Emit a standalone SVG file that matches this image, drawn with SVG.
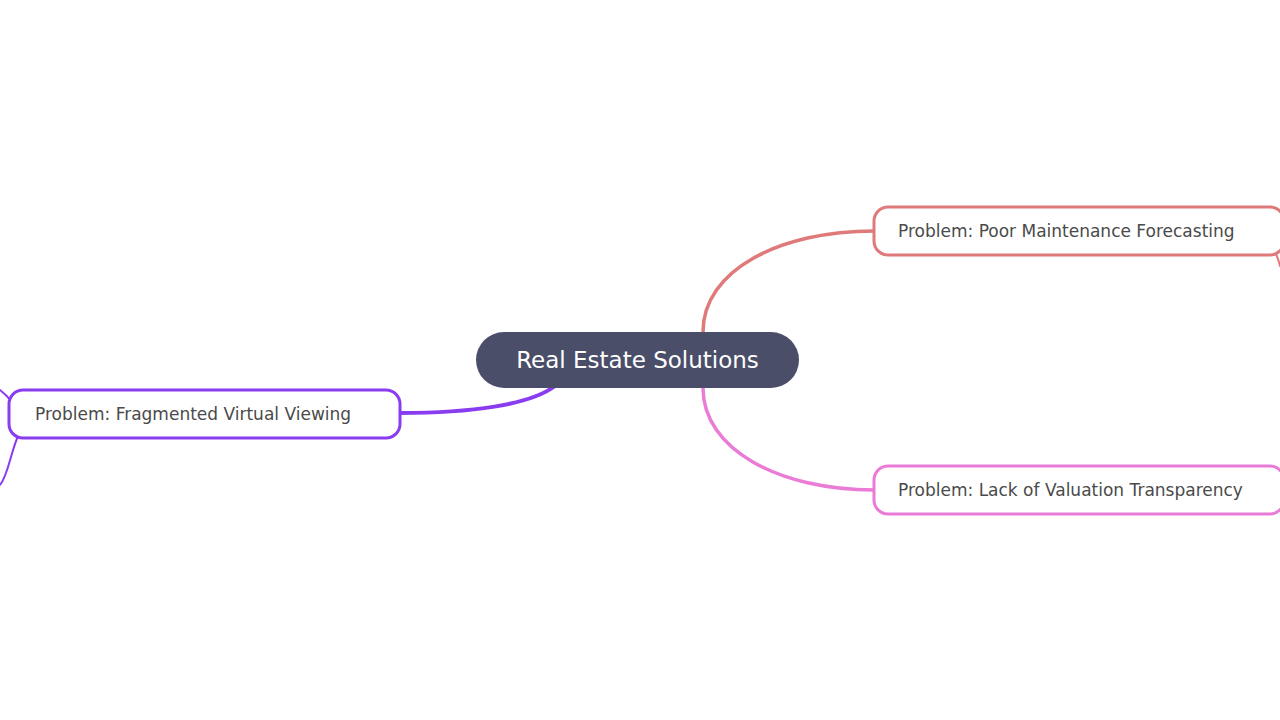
<svg xmlns="http://www.w3.org/2000/svg" width="1280" height="720" viewBox="0 0 1280 720">
<style>
.t{font-family:"DejaVu Sans",sans-serif;font-size:17px;fill:#4a4a4a}
.n{fill:#fff;stroke-width:3}
.c{fill:none;stroke-linecap:round}
</style>
<rect width="1280" height="720" fill="#fff"/>
<g id="connectors">
<path class="c" d="M703,332 C703,270 780,231 874,231" stroke="#e07a7a" stroke-width="3.5"/>
<path class="c" d="M703,388 C703,450 780,490 874,490" stroke="#ea7bd6" stroke-width="3.5"/>
<path class="c" d="M555,386 C530,405 470,413 400,413" stroke="#8a3df0" stroke-width="4"/>
<path class="c" d="M12,402 C8,397 4,393 0,390" stroke="#8a3df0" stroke-width="2"/>
<path class="c" d="M18,436 C10,455 8,475 0,485" stroke="#8a3df0" stroke-width="2"/>
<path class="c" d="M1276,254 C1278,258 1279,262 1280,266" stroke="#e07a7a" stroke-width="2"/>
</g>
<g id="root">
<rect x="476" y="332" width="323" height="56" rx="28" fill="#4a4e69"/>
<text x="637.5" y="368" text-anchor="middle" font-family="DejaVu Sans,sans-serif" font-size="23" fill="#fff">Real Estate Solutions</text>
</g>
<g id="n1">
<rect class="n" x="874" y="207" width="410" height="48" rx="14" stroke="#e07a7a"/>
<text class="t" x="898" y="237">Problem: Poor Maintenance Forecasting</text>
</g>
<g id="n2">
<rect class="n" x="874" y="466" width="410" height="48" rx="14" stroke="#ea7bd6"/>
<text class="t" x="898" y="496">Problem: Lack of Valuation Transparency</text>
</g>
<g id="n3">
<rect class="n" x="9" y="390" width="391" height="48" rx="14" stroke="#8a3df0"/>
<text class="t" x="35" y="420">Problem: Fragmented Virtual Viewing</text>
</g>
</svg>
